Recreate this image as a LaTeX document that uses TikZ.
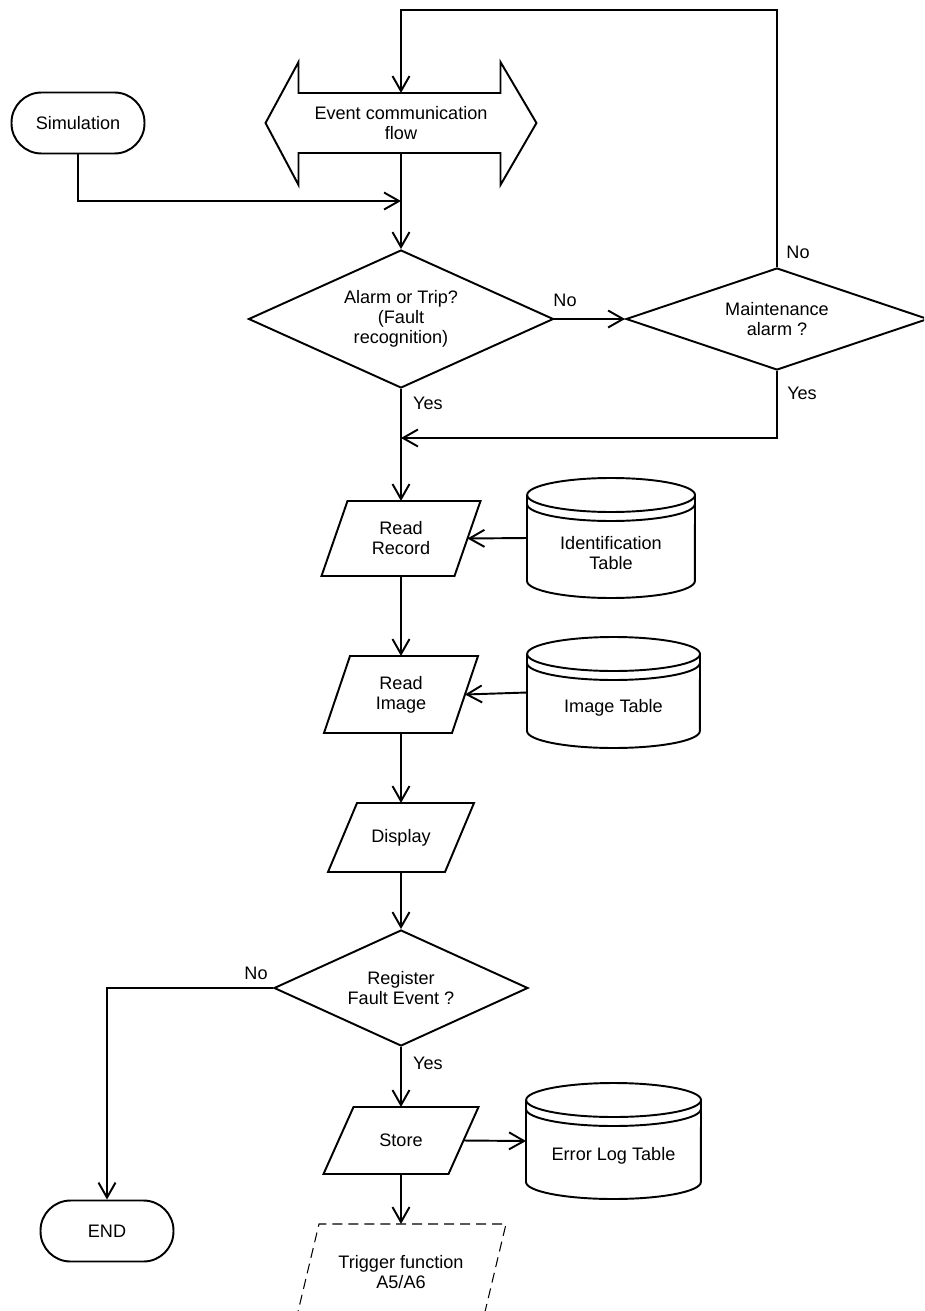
\documentclass[tikz,border=0pt]{standalone}
\usepackage{fontspec}
\setmainfont{Liberation Sans}
\usetikzlibrary{shapes.geometric,arrows.meta,calc}

% one drawing unit = one pixel of the layout grid, y grows downwards
\tikzset{
  every node/.style={font=\fontsize{10.3}{11.4}\selectfont, align=center, inner sep=0pt},
  outline/.style={draw, line width=1.1pt},
  dashedline/.style={draw, line width=0.6pt, dash pattern=on 0.2cm off 0.12cm},
  decision/.style={diamond, outline},
  terminal/.style={rectangle, outline, rounded corners=0.6cm,
                   minimum width=2.66cm, minimum height=1.22cm},
  frame/.style={rectangle, draw=none, outer sep=0pt},
  link/.style={line width=1.1pt},
  flow/.style={link, -{Straight Barb[length=0.3cm, width=0.34cm, line width=1.1pt]}},
}

% parallelogram (input/output): [style]{name}{cx}{cy}{mid width}{height}{slant}{text}
\newcommand\iobox[8][outline]{%
  \node[frame, minimum width={#5*0.02cm}, minimum height={#6*0.02cm}] (#2) at (#3,#4) {#8};
  \path[#1] ($(#2.south west)+(-#7,0)$) -- ($(#2.north west)+(#7,0)$)
        -- ($(#2.north east)+(#7,0)$) -- ($(#2.south east)+(-#7,0)$) -- cycle;}

% stored data drum: {name}{left}{top}{right}{bottom}{text}
\newcommand\drum[6]{%
  \node[frame, minimum width={(#4-#2)*0.02cm}, minimum height={(#5-#3)*0.02cm}]
      (#1) at ({(#2+#4)/2},{(#3+#5)/2}) {};
  \node (#1-text) at ($(#1.center)+(0,15)$) {#6};
  \draw[outline] (#2,#3+17) -- (#2,#5-17)
      arc[start angle=180, end angle=360, x radius={(#4-#2)*0.01cm}, y radius=0.34cm]
      -- (#4,#3+17)
      arc[start angle=0, end angle=180, x radius={(#4-#2)*0.01cm}, y radius=0.34cm]
      arc[start angle=180, end angle=360, x radius={(#4-#2)*0.01cm}, y radius=0.34cm];
  \draw[outline] (#2,#3+26)
      arc[start angle=180, end angle=360, x radius={(#4-#2)*0.01cm}, y radius=0.34cm];}

\begin{document}
\begin{tikzpicture}[x=0.02cm, y=-0.02cm]
\useasboundingbox (0,0) rectangle (924,1311);
\clip (0,0) rectangle (924,1311);

% ---- event bus (double arrow) ----
\node[frame, minimum width=5.42cm, minimum height=1.2cm] (event) at (401,123)
  {Event communication\\flow};
\draw[outline] (event.west) -- ($(event.north west)+(33,-31)$) -- ($(event.north west)+(33,0)$)
  -- ($(event.north east)+(-36,0)$) -- ($(event.north east)+(-36,-31)$) -- (event.east)
  -- ($(event.south east)+(-36,32)$) -- ($(event.south east)+(-36,0)$)
  -- ($(event.south west)+(33,0)$) -- ($(event.south west)+(33,32)$) -- cycle;

% ---- terminals ----
\node[terminal] (sim) at (78,123) {Simulation};
\node[terminal] (end) at (107,1231) {END};

% ---- decisions ----
\node[decision, aspect=2.21, minimum width=6.1cm, minimum height=2.76cm] (alarm) at (401,319)
  {Alarm or Trip?\\(Fault\\recognition)};
\node[decision, aspect=2.96, minimum width=6.04cm, minimum height=2.04cm] (maint) at (777,319)
  {Maintenance\\alarm ?};
\node[decision, aspect=2.19, minimum width=5.08cm, minimum height=2.32cm] (reg) at (401,988)
  {Register\\Fault Event ?};

% ---- input / output steps ----
\iobox{rr}{401}{538.5}{133}{75}{13}{Read\\Record}
\iobox{ri}{401}{694.5}{128}{77}{13}{Read\\Image}
\iobox{disp}{401}{837.5}{117}{69}{14.5}{Display}
\iobox{store}{401}{1140.5}{125}{67}{15}{Store}
\iobox[dashedline]{trig}{401}{1272}{187}{96}{11.5}{Trigger function\\A5/A6}

% ---- data stores ----
\drum{idtab}{527}{478}{695}{598}{Identification\\Table}
\drum{imgtab}{527}{637}{700}{748}{Image Table}
\drum{errlog}{526}{1083}{701}{1199}{Error Log Table}

% ---- connectors ----
\coordinate (topline) at (0,10);
\coordinate (merge) at (401,438);
\draw[flow] (maint.north) -- (maint.north |- topline) -| (event.north);
\draw[flow] (sim.south) |- ($(event.south)!0.5!(alarm.north)$);
\draw[flow] (event.south) -- (alarm.north);
\draw[flow] (alarm.east) -- (maint.west);
\draw[flow] (maint.south) |- (merge);
\draw[flow] (alarm.south) -- (rr.north);
\draw[flow] (idtab.west) -- (rr.east);
\draw[flow] (rr.south) -- (ri.north);
\draw[flow] (imgtab.west) -- (ri.east);
\draw[flow] (ri.south) -- (disp.north);
\draw[flow] (disp.south) -- (reg.north);
\draw[flow] (reg.west) -| (end.north);
\draw[flow] (reg.south) -- (store.north);
\draw[flow] (store.east) -- (errlog.west);
\draw[flow] (store.south) -- (trig.north);

% ---- branch labels ----
\node (no-alarm) at (565,300) {No};
\node (no-maint) at (798,252) {No};
\node (yes-alarm) at (428,403) {Yes};
\node (yes-maint) at (802,393) {Yes};
\node (no-reg) at (256,973) {No};
\node (yes-reg) at (428,1063) {Yes};
\end{tikzpicture}
\end{document}
